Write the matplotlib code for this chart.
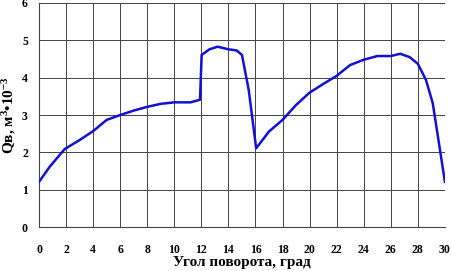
import matplotlib.pyplot as plt

# rotation angle, deg
angle = [0, 0.8, 1.9, 3.0, 4.0, 5.0, 6.0, 7.0, 8.0, 9.0, 10.0, 11.2, 11.9,
         12.02, 12.6, 13.2, 14.0, 14.6, 15.0, 15.5, 16.05, 17.0, 18.0, 19.0,
         20.0, 21.0, 22.0, 23.0, 24.0, 25.0, 26.0, 26.7, 27.4, 28.0, 28.6,
         29.1, 29.6, 30.0]
# Qв, m3*10^-3
qv = [1.21, 1.62, 2.09, 2.33, 2.57, 2.87, 3.0, 3.12, 3.22, 3.30, 3.34, 3.34,
      3.41, 4.61, 4.76, 4.83, 4.76, 4.73, 4.61, 3.67, 2.11, 2.56, 2.87, 3.27,
      3.60, 3.83, 4.05, 4.34, 4.48, 4.58, 4.58, 4.64, 4.55, 4.37, 3.94,
      3.32, 2.15, 1.21]

xticks = list(range(0, 31, 2))
yticks = list(range(0, 7))

plt.rcParams['font.family'] = 'Liberation Serif'
plt.rcParams['font.weight'] = 'bold'
plt.rcParams['mathtext.fontset'] = 'custom'
plt.rcParams['mathtext.rm'] = 'Liberation Serif:bold'
plt.rcParams['mathtext.default'] = 'rm'

fig = plt.figure(figsize=(4.51, 2.71), dpi=100)
ax = fig.add_axes([0.0865, 0.162, 0.9, 0.827])

ax.plot(angle, qv, color='#1010d8', lw=1.8, zorder=3)

ax.set_xlim(0, 30)
ax.set_ylim(0, 6)
ax.set_xticks(xticks)
ax.set_yticks(yticks)
ax.grid(True, color='#444444', lw=0.7)
ax.tick_params(length=0, labelsize=8.5)
ax.tick_params(axis='x', pad=12)
ax.tick_params(axis='y', pad=8)
for s in ['top', 'right']:
    ax.spines[s].set_visible(False)
for s in ['left', 'bottom']:
    ax.spines[s].set_color('#444444')
    ax.spines[s].set_linewidth(0.8)

ax.set_xlabel('Угол поворота, град', fontsize=11, fontweight='bold', labelpad=0)
ax.set_ylabel('Qв, м$^3$•10$^{-3}$', fontsize=11, fontweight='bold', labelpad=3)

plt.savefig('out.png', dpi=100)
plt.close()
